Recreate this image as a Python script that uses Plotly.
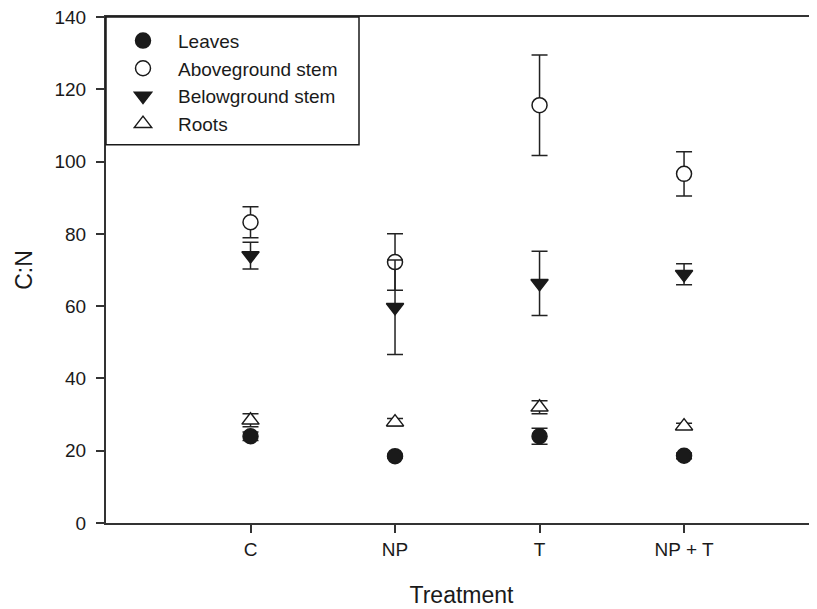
import plotly.graph_objects as go

categories = ["C", "NP", "T", "NP + T"]

leaves = [24.0, 18.5, 24.0, 18.6]
leaves_err = [1.2, 0.5, 2.2, 0.8]

above_stem = [83.2, 72.2, 115.6, 96.6]
above_stem_err = [4.3, 7.8, 13.9, 6.1]

below_stem = [74.0, 59.7, 66.3, 68.8]
below_stem_err = [3.7, 13.1, 8.9, 2.9]

roots = [28.4, 27.9, 32.0, 26.8]
roots_err = [1.8, 1.0, 1.8, 0.8]

y_ticks = [0, 20, 40, 60, 80, 100, 120, 140]

FONT = "Liberation Sans, Arial, sans-serif"
INK = "#1a1a1a"

series = [
    ("Leaves", leaves, leaves_err, "circle", INK, INK),
    ("Aboveground stem", above_stem, above_stem_err, "circle", "white", INK),
    ("Belowground stem", below_stem, below_stem_err, "triangle-down", INK, INK),
    ("Roots", roots, roots_err, "triangle-up", "white", INK),
]

fig = go.Figure()
for name, vals, errs, sym, fill, line in series:
    fig.add_trace(go.Scatter(
        x=categories, y=vals, name=name, mode="markers",
        marker=dict(symbol=sym, size=15, color=fill,
                    line=dict(color=line, width=1.5)),
        error_y=dict(type="data", array=errs, visible=True,
                     color="#222222", thickness=1.5, width=8),
    ))

# page body has an 8px margin: the figure is drawn 8px right and down
OFF = 8
W, H = 817 - OFF, 609 - OFF
L, R, T, B = 106 - OFF, 0, 17.3 - OFF, 609 - 523.4
pw, ph = W - L - R, H - T - B

def px_x(p):
    return (p - OFF - L) / pw

def px_y(p):
    return (H - B - (p - OFF)) / ph

fig.add_shape(type="rect", xref="paper", yref="paper",
              x0=0, x1=px_x(359), y0=px_y(145), y1=1,
              line=dict(color=INK, width=1.5), fillcolor="rgba(0,0,0,0)")

fig.update_layout(
    width=W, height=H,
    margin=dict(l=L, r=R, t=T, b=B, autoexpand=False),
    paper_bgcolor="white", plot_bgcolor="white",
    font=dict(family=FONT, size=19, color=INK),
    showlegend=True,
    legend=dict(x=px_x(108), y=px_y(22), xanchor="left", yanchor="top",
                bgcolor="rgba(0,0,0,0)", borderwidth=0,
                itemwidth=60, font=dict(size=19, family=FONT, color=INK),
                tracegroupgap=0),
    xaxis=dict(
        type="category", range=[-1, 3.92],
        showgrid=False, zeroline=False,
        showline=True, linecolor="#333333", linewidth=2, mirror=True,
        ticks="outside", ticklen=8, tickwidth=1.5, tickcolor="#333333",
        tickfont=dict(size=19, family=FONT, color=INK),
        ticklabelstandoff=0,
        title=dict(text="Treatment", font=dict(size=23, family=FONT, color=INK),
                   standoff=28),
    ),
    yaxis=dict(
        range=[0, 140], tickvals=y_ticks,
        showgrid=False, zeroline=False,
        showline=True, linecolor="#333333", linewidth=2,
        ticks="outside", ticklen=8, tickwidth=1.5, tickcolor="#333333",
        tickfont=dict(size=19, family=FONT, color=INK),
        ticklabelstandoff=6, ticklabeloverflow="allow",
        title=dict(text="C:N", font=dict(size=23, family=FONT, color=INK),
                   standoff=15),
    ),
)

fig.write_html("out.html")
